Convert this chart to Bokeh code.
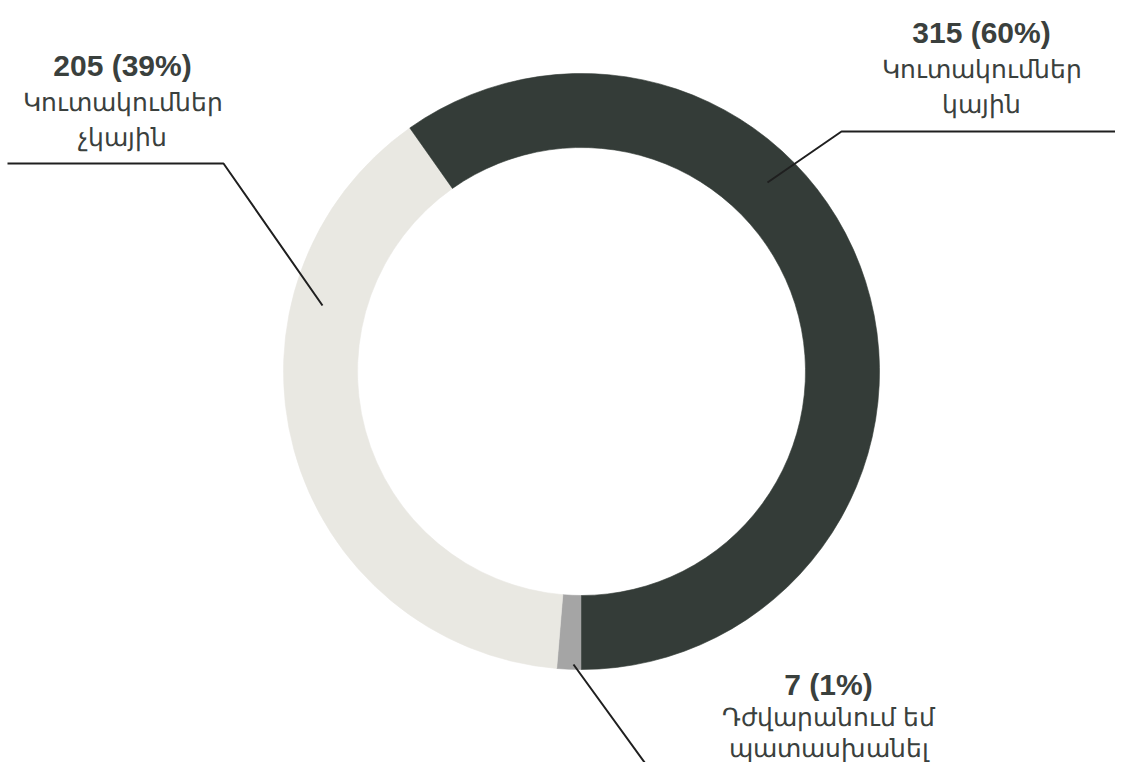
import numpy as np
from bokeh.plotting import figure
from bokeh.models import Range1d
from bokeh.core.properties import value
from bokeh.embed import file_html
from bokeh.resources import INLINE

# ---------------- data ----------------
categories = ["Դժվարանում եմ պատասխանել", "Կուտակումներ չկային", "Կուտակումներ կային"]
label_lines = [["Դժվարանում եմ", "պատասխանել"],
               ["Կուտակումներ", "չկային"],
               ["Կուտակումներ", "կային"]]
counts = [7, 205, 315]
colors = ["#a5a5a5", "#e9e8e2", "#343c38"]

# ---------------- layout (picture pixel coordinates) ----------------
H = 778
FW, FH = 1115, 762
CX, CY = 581, 371
R_IN, R_OUT = 224, 298
START_CLOCK = 180          # degrees clockwise from 12 o'clock
label_anchor = [(828, 684), (122, 65), (981, 32)]   # centre x, baseline y of first line
label_gap = [31, 35, 35]
leaders = [
    [(573, 664), (655, 777), (983, 777)],
    [(322, 305), (223, 163), (7, 163)],
    [(767, 182), (841, 131), (1131, 131)],
]
TEXT_COLOR = "#3a403d"
NUM_FONT = "Liberation Sans"
ARM_FONT = "Noto Sans"


def Y(y):
    return H - y


total = sum(counts)
pcts = [round(c * 100 / total) for c in counts]
cum = np.concatenate([[0], np.cumsum(counts)]) / total * 360.0
theta0 = START_CLOCK + cum[:-1]
theta1 = START_CLOCK + cum[1:]
start_angle = list(np.radians(90 - theta0))
end_angle = list(np.radians(90 - theta1))

p = figure(width=FW, height=FH, x_range=Range1d(0, FW), y_range=Range1d(H - FH, H),
           output_backend="svg", toolbar_location=None, min_border=0)
p.title.visible = False
p.axis.visible = False
p.grid.visible = False
p.outline_line_color = None
p.background_fill_color = "white"
p.border_fill_color = "white"

p.annular_wedge(x=[CX] * 3, y=[Y(CY)] * 3, inner_radius=R_IN, outer_radius=R_OUT,
                start_angle=start_angle, end_angle=end_angle, direction="clock",
                fill_color=colors, line_color=colors, line_width=0.6)

for pts in leaders:
    p.line([q[0] for q in pts], [Y(q[1]) for q in pts], line_color="#1f1f1f", line_width=2)

for (ax, ay), gap, c, pc, lines in zip(label_anchor, label_gap, counts, pcts, label_lines):
    p.text(x=[ax], y=[Y(ay)], text=[f"{c} ({pc}%)"], text_align="center",
           text_baseline="alphabetic", text_font=value(NUM_FONT), text_font_style="bold",
           text_font_size="30px", text_color=TEXT_COLOR)
    p.text(x=[ax] * len(lines), y=[Y(ay + gap * (i + 1)) for i in range(len(lines))],
           text=lines, text_align="center", text_baseline="alphabetic",
           text_font=value(ARM_FONT), text_font_size="25px", text_color=TEXT_COLOR)

open("out.html", "w").write(file_html(p, INLINE))
